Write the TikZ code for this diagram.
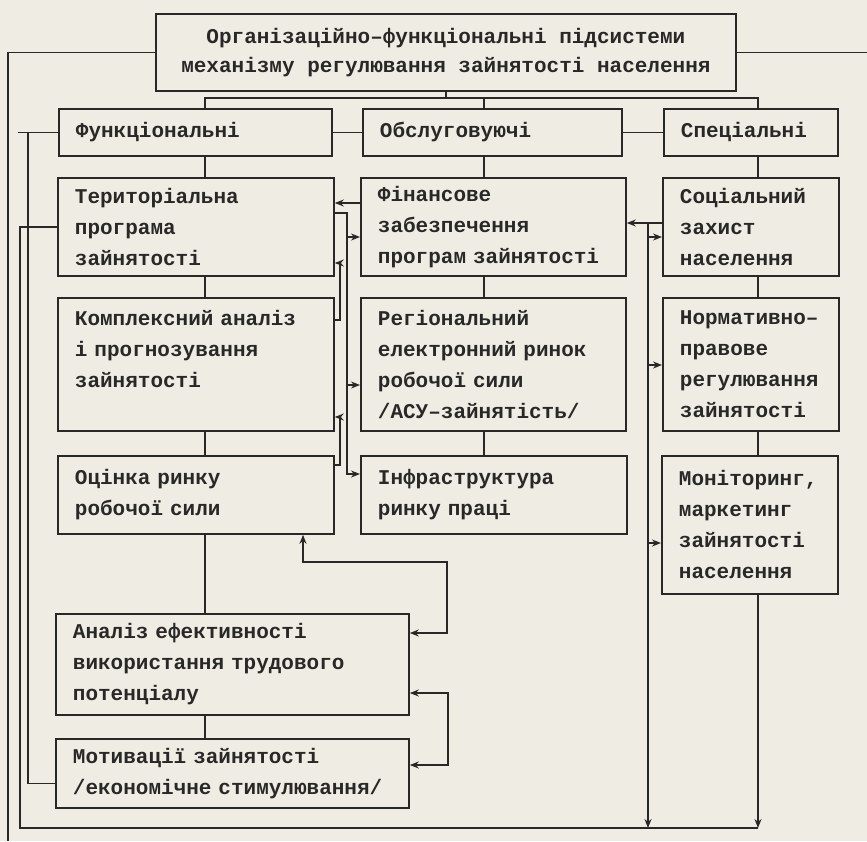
\documentclass[tikz,border=0pt]{standalone}
\usepackage{fontspec}
\setmainfont{Liberation Mono}
\usepackage{tikz}
\usetikzlibrary{arrows.meta}
\usepackage{xcolor}
\definecolor{papir}{RGB}{239,237,227}
\definecolor{chornylo}{RGB}{40,40,40}
\tikzset{
  % style for the boxes of the scheme
  blok/.style={draw=chornylo, line width=1.8pt, anchor=north west,
    inner xsep=17pt, inner ysep=0pt, align=left, text=chornylo},
  % arrow at the end of a connector
  strilka/.style={-{Stealth[length=9pt,width=7pt]}},
  % arrows at both ends of a connector
  dvi strilky/.style={{Stealth[length=9pt,width=7pt]}-{Stealth[length=9pt,width=7pt]}},
}

\begin{document}
\begin{tikzpicture}[x=1pt,y=-1pt,font=\fontsize{21}{31}\selectfont\bfseries]
    \fill[papir] (0,0) rectangle (867,841);
    \useasboundingbox (0,0) rectangle (867,841);

    \node[blok, align=center, minimum width=580pt, minimum height=77pt, inner xsep=0pt,
      font=\fontsize{21}{29}\selectfont\bfseries] (top) at (155,13)
      {Організаційно–функціональні підсистеми\\механізму регулювання зайнятості населення};

    \node[blok, text width=239pt, minimum height=47pt] (funk) at (58,108) {Функціональні};
    \node[blok, text width=225pt, minimum height=47pt] (obsl) at (362,108) {Обслуговуючі};
    \node[blok, text width=140pt, minimum height=47pt] (spec) at (663,108) {Спеціальні};

    \node[blok, text width=242pt, minimum height=98pt] (terpr) at (57,177) {Територіальна\\програма\\зайнятості};
    \node[blok, text width=231pt, minimum height=98pt] (fin) at (360,177) {Фінансове\\забезпечення\\програм зайнятості};
    \node[blok, text width=142pt, minimum height=98pt] (soc) at (662,177) {Соціальний\\захист\\населення};

    \node[blok, text width=242pt, minimum height=133pt] (kompl) at (57,297) {Комплексний аналіз\\і прогнозування\\зайнятості\\~};
    \node[blok, text width=231pt, minimum height=133pt] (reg) at (360,297) {Регіональний\\електронний ринок\\робочої сили\\/АСУ–зайнятість/};
    \node[blok, text width=142pt, minimum height=133pt] (norm) at (662,297) {Нормативно–\\правове\\регулювання\\зайнятості};

    \node[blok, text width=242pt, minimum height=78pt] (ocin) at (57,455) {Оцінка ринку\\робочої сили};
    \node[blok, text width=232pt, minimum height=78pt] (infr) at (360,455) {Інфраструктура\\ринку праці};
    \node[blok, text width=142pt, minimum height=138pt] (monit) at (661,455) {Моніторинг,\\маркетинг\\зайнятості\\населення};

    \node[blok, text width=319pt, minimum height=101pt] (analiz) at (55,613) {Аналіз ефективності\\використання трудового\\потенціалу};
    \node[blok, text width=319pt, minimum height=69pt] (motyv) at (55,738) {Мотивації зайнятості\\/економічне стимулювання/};

    \coordinate (kol1) at (205,0);
    \coordinate (kol2) at (484,0);
    \coordinate (kol3) at (758,0);
    \coordinate (shyna) at (347,0);
    \coordinate (zvorot) at (340,0);
    \coordinate (shyna2) at (648,0);
    \coordinate (kraj) at (8,841);

    \begin{scope}[chornylo, line width=1.4pt]
    % bus under the top box
    \draw (top.south) -- (top.south |- 0,98);
    \draw (funk.north -| kol1) -- (kol1 |- 0,98) -- (kol3 |- 0,98) -- (spec.north -| kol3);
    \draw (obsl.north -| kol2) -- (kol2 |- 0,98);
    \draw (funk) -- (obsl);
    \draw (obsl) -- (spec);

    \draw (funk.south -| kol1) -- (terpr.north -| kol1);
    \draw (terpr.south -| kol1) -- (kompl.north -| kol1);
    \draw (kompl.south -| kol1) -- (ocin.north -| kol1);
    \draw (ocin.south -| kol1) -- (analiz.north -| kol1);
    \draw (analiz.south -| kol1) -- (motyv.north -| kol1);

    \draw (obsl.south -| kol2) -- (fin.north -| kol2);
    \draw (fin.south -| kol2) -- (reg.north -| kol2);
    \draw (reg.south -| kol2) -- (infr.north -| kol2);

    \draw (spec.south -| kol3) -- (soc.north -| kol3);
    \draw (soc.south -| kol3) -- (norm.north -| kol3);
    \draw (norm.south -| kol3) -- (monit.north -| kol3);

    % left side
    \draw (top.west) -- (top.west -| kraj) -- (kraj);
    \draw (top.east) -- (top.east -| 867,0);
    \draw (funk.west) -- (funk.west -| 18,0);
    \draw (funk.west -| 28,0) |- ([yshift=-10pt]motyv.west);
    \draw (terpr.west) -| (20,828) -- (kol3 |- 0,828);

    % between first and second column
    \draw[strilka] (fin.west |- 0,203) -- (terpr.east |- 0,203);
    \draw[strilka] (terpr.east |- 0,213) -| (shyna |- 0,474) -- (infr.west |- 0,474);
    \draw[strilka] (shyna |- 0,237) -- (fin.west |- 0,237);
    \draw[strilka] (shyna |- 0,385) -- (reg.west |- 0,385);
    \draw[strilka] (kompl.east |- 0,320) -| (zvorot |- 0,263) -- (terpr.east |- 0,263);
    \draw[strilka] (ocin.east |- 0,465) -| (zvorot |- 0,417) -- (kompl.east |- 0,417);

    % between second and third column
    \draw[strilka] (soc.west |- 0,223) -- (fin.east |- 0,223);
    \draw[strilka] (shyna2 |- 0,223) -- (shyna2 |- 0,828);
    \draw[strilka] (shyna2 |- 0,237) -- (soc.west |- 0,237);
    \draw[strilka] (shyna2 |- 0,365) -- (norm.west |- 0,365);
    \draw[strilka] (shyna2 |- 0,543) -- (monit.west |- 0,543);
    \draw[strilka] (monit.south -| kol3) -- (kol3 |- 0,828);

    % loops on the right of the lower boxes
    \draw[dvi strilky] (ocin.south -| 303,0) |- (447,562) |- (analiz.east |- 0,633);
    \draw[dvi strilky] (analiz.east |- 0,693) -| (448,765) -- (motyv.east |- 0,765);
    \end{scope}
\end{tikzpicture}
\end{document}
